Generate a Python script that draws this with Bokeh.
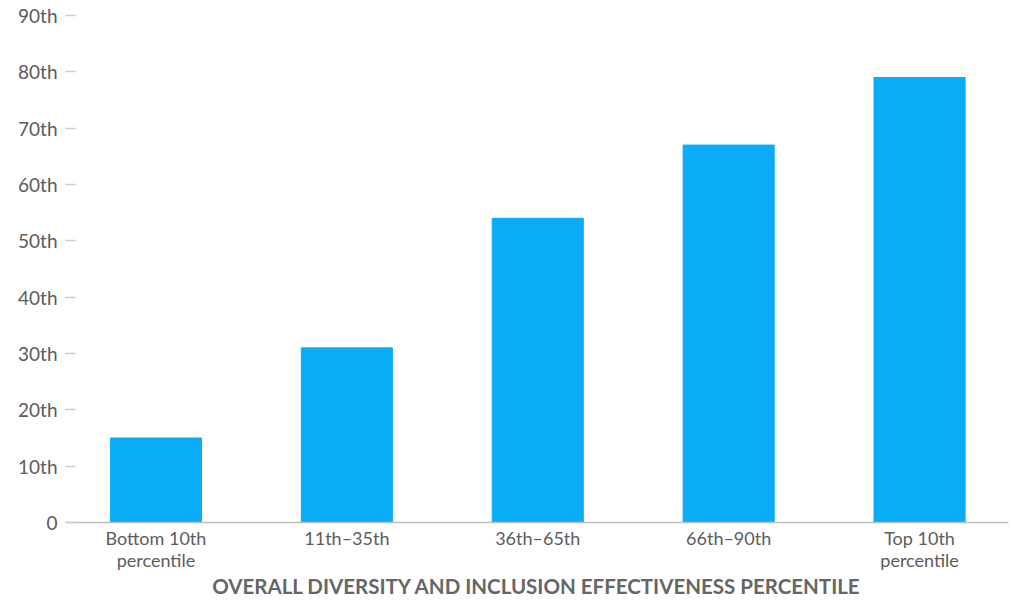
from bokeh.plotting import figure
from bokeh.models import ColumnDataSource, Range1d, FixedTicker
from bokeh.embed import file_html
from bokeh.resources import INLINE

# Percentile groups and the average score of each group
categories = ["Bottom 10th\npercentile", "11th\u201335th", "36th\u201365th", "66th\u201390th", "Top 10th\npercentile"]
values = [15, 31, 54, 67, 79]
y_ticks = [0, 10, 20, 30, 40, 50, 60, 70, 80, 90]
y_tick_labels = ["0", "10th", "20th", "30th", "40th", "50th", "60th", "70th", "80th", "90th"]
x_title = "OVERALL DIVERSITY AND INCLUSION EFFECTIVENESS PERCENTILE"

FONT = "Lato"
TEXT = "#5c5c5c"

xs = [i + 0.5 for i in range(len(categories))]
source = ColumnDataSource(dict(x=xs, top=values))

p = figure(width=1013, height=601, output_backend="svg", toolbar_location=None,
           x_range=Range1d(0.026, 4.966), y_range=Range1d(0, 90),
           min_border_left=65, min_border_right=5, min_border_top=15, min_border_bottom=79)

p.vbar(x="x", top="top", width=0.477, bottom=0, source=source, color="#0AABF7")

p.xgrid.visible = False
p.ygrid.visible = False
p.outline_line_color = None

xa = p.xaxis[0]
xa.ticker = FixedTicker(ticks=xs)
xa.major_label_overrides = {x: c for x, c in zip(xs, categories)}
xa.major_tick_line_color = None
xa.minor_tick_line_color = None
xa.major_tick_in = 0
xa.major_tick_out = 0
xa.axis_line_color = "#bdbdbd"
xa.axis_line_width = 1.5
xa.major_label_text_font = FONT
xa.major_label_text_font_size = "18px"
xa.major_label_text_line_height = 1.0
xa.major_label_text_color = TEXT
xa.major_label_standoff = 4
xa.axis_label = x_title
xa.axis_label_text_font = FONT
xa.axis_label_text_font_size = "20.5px"
xa.axis_label_text_font_style = "bold"
xa.axis_label_text_color = "#666666"
xa.axis_label_standoff = 0

ya = p.yaxis[0]
ya.ticker = FixedTicker(ticks=y_ticks)
ya.major_label_overrides = {t: l for t, l in zip(y_ticks, y_tick_labels)}
ya.axis_line_color = None
ya.major_tick_in = 10
ya.major_tick_out = 0
ya.major_tick_line_color = "#cfcfcf"
ya.major_tick_line_width = 1.5
ya.minor_tick_line_color = None
ya.major_label_text_font = FONT
ya.major_label_text_font_size = "19px"
ya.major_label_text_color = TEXT
ya.major_label_standoff = 8

open("out.html", "w").write(file_html(p, INLINE))
